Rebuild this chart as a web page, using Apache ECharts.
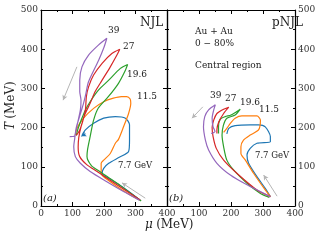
<!DOCTYPE html>
<html><head><meta charset="utf-8">
<script src="https://cdn.jsdelivr.net/npm/echarts@6/dist/echarts.min.js"></script>
<style>html,body{margin:0;padding:0;background:#fff}#c{width:320px;height:240px}</style>
</head><body><div id="c"></div>
<script>
// energies (GeV)
const energies = ['7.7', '11.5', '19.6', '27', '39'];
const xTicks = [0, 100, 200, 300, 400];
const yTicks = [0, 100, 200, 300, 400, 500];

// NJL trajectories [mu, T] in MeV
const njl77 = [[315,15],[260,48],[220,68],[194,83],[199,96],[215,109],[250,125],[278,139],[281,168],[281,207],[268,224],[236,228],[199,224],[167,211],[141,194],[130,180]];
const njl115 = [[308,17],[273,33],[220,62],[191,83],[191,109],[199,117],[220,134],[236,160],[246,170],[262,202],[278,236],[285,262],[283,273],[272,279],[255,279],[230,275],[199,266],[167,249],[135,224],[114,198],[109,181]];
const njl196 = [[318,13],[252,52],[210,75],[183,90],[160,103],[146,126],[148,145],[156,177],[167,219],[182,250],[215,280],[246,313],[266,343],[275,361],[252,351],[215,321],[183,296],[156,266],[141,245],[128,220],[118,198],[112,180]];
const njl27 = [[315,15],[241,54],[200,76],[178,88],[146,105],[123,126],[118,150],[120,175],[128,205],[140,235],[156,262],[172,292],[194,321],[220,355],[241,385],[250,400],[225,389],[194,364],[167,334],[151,304],[144,279],[141,245],[132,215],[122,192],[112,180]];
const njl39 = [[312,15],[262,37],[209,62],[156,88],[125,109],[109,126],[104,151],[107,172],[112,200],[125,235],[135,262],[142,285],[150,315],[165,342],[183,372],[200,405],[209,428],[183,411],[151,385],[130,355],[123,321],[123,292],[127,270],[125,245],[116,211],[109,185],[106,178],[91,177]];

// pNJL trajectories [mu, T] in MeV
const pnjl77 = [[323,24],[307,45],[281,75],[255,109],[250,130],[260,147],[281,160],[323,164],[323,177],[307,202],[286,207],[260,207],[213,205],[193,198],[187,184]];
const pnjl115 = [[323,24],[307,41],[271,83],[245,117],[231,134],[231,151],[239,168],[260,181],[286,194],[292,219],[281,230],[250,230],[234,230],[213,224],[198,211],[187,198],[177,188]];
const pnjl196 = [[320,22],[292,32],[250,58],[208,92],[187,117],[177,151],[172,181],[176,205],[187,224],[213,232],[229,247],[200,232],[182,228],[166,221],[161,202],[161,185]];
const pnjl27 = [[323,24],[281,41],[219,83],[177,117],[154,147],[144,177],[141,200],[146,219],[156,236],[177,247],[193,252],[177,236],[162,215],[156,195],[156,185]];
const pnjl39 = [[323,24],[250,54],[198,79],[156,109],[130,143],[120,168],[114,202],[118,228],[130,245],[151,258],[146,245],[141,224],[144,202],[150,190],[138,185]];

// guide arrows [[from],[to]]
const arrowsNJL = [[[114,355],[70,270]], [[331,20],[257,59]]];
const arrowsPNJL = [[[112,253],[78,224]], [[344,25],[302,79]]];
const endArrowNJL77 = [[142,184],[128,178]];

const colors = {'7.7':'#1f77b4','11.5':'#ff7f0e','19.6':'#2ca02c','27':'#d62728','39':'#9467bd'};
const njl = {'7.7':njl77,'11.5':njl115,'19.6':njl196,'27':njl27,'39':njl39};
const pnjl = {'7.7':pnjl77,'11.5':pnjl115,'19.6':pnjl196,'27':pnjl27,'39':pnjl39};

const serif = 'DejaVu Serif';
const chart = echarts.init(document.getElementById('c'), null, {renderer:'canvas'});

function xAx(grid, pos, labels, hideZero){
  return {type:'value', gridIndex:grid, position:pos, min:0, max:400, interval:100,
    axisLine:{show:true, onZero:false, lineStyle:{color:'#000', width:1.2}},
    axisTick:{show:true, inside:true, length:4, lineStyle:{color:'#000'}},
    minorTick:{show:true, splitNumber:2, length:2, lineStyle:{color:'#000'}},
    splitLine:{show:false},
    axisLabel:{show:labels, fontFamily:serif, fontSize:9, color:'#333', margin:3,
      formatter: v => (hideZero && v===0) ? '' : String(v)}};
}
function yAx(grid, pos, labels){
  return {type:'value', gridIndex:grid, position:pos, min:0, max:500, interval:100,
    axisLine:{show:true, onZero:false, lineStyle:{color:'#000', width:1.2}},
    axisTick:{show:true, inside:true, length:4, lineStyle:{color:'#000'}},
    minorTick:{show:true, splitNumber:2, length:2, lineStyle:{color:'#000'}},
    splitLine:{show:false},
    axisLabel:{show:labels, fontFamily:serif, fontSize:9, color:'#333', margin:3}};
}

function arrowML(arrs, color, size){
  return {silent:true, symbol:['none','arrow'], symbolSize:size, animation:false,
    label:{show:false}, lineStyle:{color:color, width:1, type:'solid'},
    data: arrs.map(a => [{coord:a[0]},{coord:a[1]}])};
}

const series = [];
energies.forEach(e => {
  const s = {type:'line', name:'NJL '+e, xAxisIndex:0, yAxisIndex:0, data:njl[e], showSymbol:false,
    smooth:0.25, lineStyle:{color:colors[e], width:1.2}, itemStyle:{color:colors[e]}, silent:true};
  if (e==='7.7') s.markLine = arrowML([endArrowNJL77], colors[e], [4,5]);
  if (e==='39') s.markLine = arrowML(arrowsNJL, '#b5b5b5', [4,5]);
  series.push(s);
  const p = {type:'line', name:'pNJL '+e, xAxisIndex:2, yAxisIndex:3, data:pnjl[e], showSymbol:false,
    smooth:0.25, lineStyle:{color:colors[e], width:1.2}, itemStyle:{color:colors[e]}, silent:true};
  if (e==='39') p.markLine = arrowML(arrowsPNJL, '#b5b5b5', [4,5]);
  series.push(p);
});

const txt = (x,y,t,size,extra) => Object.assign({type:'text', left:x, top:y, style:Object.assign({text:t, fontFamily:serif, fontSize:size, fill:'#222'}, extra||{})});

chart.setOption({
  animation:false,
  grid:[{left:41, top:10, width:126, height:196}, {left:167, top:10, width:128, height:196}],
  xAxis:[xAx(0,'bottom',true,false), xAx(0,'top',false,false), xAx(1,'bottom',true,true), xAx(1,'top',false,false)],
  yAxis:[yAx(0,'left',true), yAx(0,'right',false), yAx(1,'left',false), yAx(1,'right',true)],
  series: series,
  graphic:[
    txt(140,17,'NJL',12),
    txt(272,17,'pNJL',12),
    txt(108,26,'39',9),
    txt(123,42,'27',9),
    txt(127,70,'19.6',9),
    txt(137,92,'11.5',9),
    txt(118,161,'7.7 GeV',8.5),
    txt(210,91,'39',9),
    txt(225,94,'27',9),
    txt(240,98,'19.6',9),
    txt(259,105,'11.5',9),
    txt(255,151,'7.7 GeV',8.5),
    txt(195,27,'Au + Au',9),
    txt(195,39,'0 \u2212 80%',9),
    txt(195,61,'Central region',9),
    txt(43,193,'(a)',10,{fontStyle:'italic'}),
    txt(169,193,'(b)',10,{fontStyle:'italic'}),
    {type:'text', left:145, top:219, style:{rich:{i:{fontFamily:serif, fontSize:12, fontStyle:'italic', fill:'#222'}, n:{fontFamily:serif, fontSize:12, fill:'#222'}}, text:'{i|\u03bc} {n|(MeV)}'}},
    {type:'text', x:5, y:130, rotation:Math.PI/2, style:{rich:{i:{fontFamily:serif, fontSize:12, fontStyle:'italic', fill:'#222'}, n:{fontFamily:serif, fontSize:12, fill:'#222'}}, text:'{i|T} {n|(MeV)}'}}
  ]
});
</script></body></html>
